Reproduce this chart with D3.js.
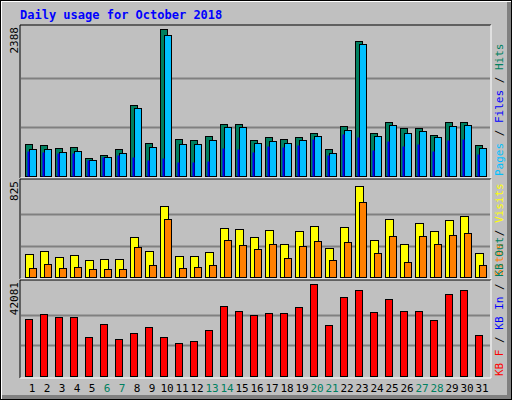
<!DOCTYPE html>
<html>
<head>
<meta charset="utf-8">
<script src="https://cdn.jsdelivr.net/npm/d3@7"></script>
<style>
body { margin: 0; }
text { font-family: 'DejaVu Sans Mono', monospace; }
</style>
</head>
<body>
<script>
// Webalizer style daily usage chart
var days = d3.range(1, 32)
var weekend = [6, 7, 13, 14, 20, 21, 27, 28]

var hits = [521, 505, 457, 473, 298, 345, 441, 1157, 537, 2388, 600, 584, 648, 839, 839, 584,
    632, 600, 632, 696, 441, 807, 2192, 696, 871, 775, 775, 664, 871, 871, 505]
var files = [441, 441, 393, 409, 266, 314, 377, 1110, 473, 2288, 521, 521, 584, 791, 791, 537,
    568, 537, 584, 648, 377, 743, 2144, 648, 823, 696, 728, 632, 807, 823, 457]
var pages = [414, 382, 366, 366, 255, 302, 334, 302, 255, 287, 223, 223, 239, 462, 446, 382,
    494, 478, 509, 605, 334, 685, 637, 430, 573, 494, 525, 414, 589, 605, 350]
var visits = [204, 230, 178, 195, 152, 161, 161, 350, 230, 625, 187, 187, 221, 427, 419, 350,
    410, 290, 402, 445, 255, 436, 797, 324, 505, 290, 470, 402, 496, 531, 212]
var sites = [83, 118, 75, 92, 66, 66, 66, 264, 109, 505, 83, 92, 109, 324, 281, 247,
    290, 169, 273, 316, 152, 307, 660, 212, 359, 135, 359, 290, 367, 384, 101]
var kbytes = [26004, 28219, 26890, 26890, 18030, 23789, 17144, 19802, 22460, 18030, 14929, 15815,
    21131, 32206, 29548, 27776, 28662, 28662, 31763, 42081, 23346, 36193, 39294, 29105, 35307,
    29548, 29548, 25561, 37522, 39294, 18916]

var width = 512, height = 400

svg = d3.select('body')
    .append('svg')
    .attr('width', width)
    .attr('height', height)

// outer frame
svg.append('rect').attr('width', width).attr('height', height).attr('fill', '#000')
svg.append('rect').attr('x', 1).attr('y', 1).attr('width', 510).attr('height', 398).attr('fill', '#fff')
svg.append('rect').attr('x', 2).attr('y', 2).attr('width', 509).attr('height', 397).attr('fill', '#808080')
svg.append('rect').attr('x', 2).attr('y', 2).attr('width', 505).attr('height', 393).attr('fill', '#c0c0c0')

svg.append('text')
    .text('Daily usage for October 2018')
    .attr('x', 20).attr('y', 19)
    .style('font-size', '12px').style('font-weight', 'bold')
    .attr('fill', '#0000ff')

var x = d3.scaleBand().domain(days).range([22, 487]).paddingInner(0)

function panel(y0, y1, max, label) {
    svg.append('rect').attr('x', 20).attr('y', y0).attr('width', 471).attr('height', y1 - y0)
        .attr('fill', '#c0c0c0')
    svg.append('path').attr('d', `M20,${y1}V${y0}H491`).attr('stroke', '#000').attr('fill', 'none')
    svg.append('path').attr('d', `M491,${y0}V${y1}H20`).attr('stroke', '#fff').attr('fill', 'none')
    var y = d3.scaleLinear().domain([0, max]).range([y1 - 2, y0 + 4])
    ;[1 / 3, 2 / 3].forEach(f => {
        svg.append('line').attr('x1', 21).attr('x2', 490)
            .attr('y1', Math.round(y(max * f)) + 0.5).attr('y2', Math.round(y(max * f)) + 0.5)
            .attr('stroke', '#808080').attr('stroke-width', 2)
    })
    svg.append('text').text(label)
        .attr('transform', `translate(18, ${y0 + 2}) rotate(-90)`)
        .attr('text-anchor', 'end')
        .style('font-size', '11px').attr('fill', '#000')
    return y
}

function bars(data, y, dx, w, color, stroke) {
    svg.append('g').selectAll('rect')
        .data(data)
        .enter()
        .append('rect')
        .attr('x', (d, i) => x(days[i]) + dx + 0.5)
        .attr('y', d => Math.round(y(d)) + 0.5)
        .attr('width', w)
        .attr('height', d => y(0) - Math.round(y(d)))
        .attr('fill', color)
        .attr('stroke', stroke ? '#000' : 'none')
}

// hits / files / pages
var y1 = panel(25, 178, 2388, '2388')
bars(hits, y1, 3, 7, '#008060', true)
bars(files, y1, 7, 7, '#00c0ff', true)
bars(pages, y1, 5, 2, '#0000ff', false)

// visits / sites
var y2 = panel(179, 279, 825, '825')
bars(visits, y2, 3, 8, '#ffff00', true)
bars(sites, y2, 7, 7, '#ff8000', true)

// kbytes
var y3 = panel(280, 378, 42081, '42081')
bars(kbytes, y3, 3, 7, '#ff0000', true)

// day labels
svg.append('g').selectAll('text')
    .data(days)
    .enter()
    .append('text')
    .text(d => d)
    .attr('x', d => x(d) + 10)
    .attr('y', 392)
    .attr('text-anchor', 'middle')
    .style('font-size', '11px')
    .attr('fill', d => weekend.includes(d) ? '#008060' : '#000')

// right side legends
function legend(y0, parts) {
    var t = svg.append('text')
        .attr('transform', `translate(503, ${y0}) rotate(-90)`)
        .style('font-size', '11px')
    parts.forEach(p => t.append('tspan').text(p[0]).attr('fill', p[1]))
}
legend(176, [['Pages', '#00c0ff'], [' / ', '#000'], ['Files', '#0000ff'], [' / ', '#000'], ['Hits', '#008060']])
legend(276, [['Sites', '#ff8000'], [' / ', '#000'], ['Visits', '#ffff00']])
legend(376, [['KB F', '#ff0000'], [' / ', '#000'], ['KB In', '#0000ff'], [' / ', '#000'], ['KB Out', '#008060']])
</script>
</body>
</html>
